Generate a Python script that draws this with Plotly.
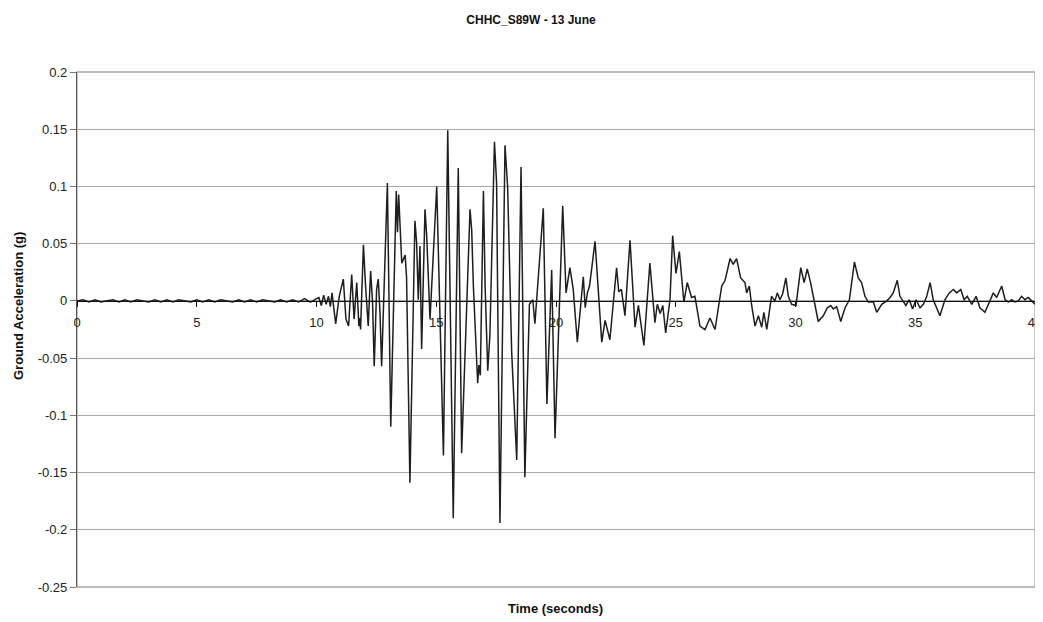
import plotly.graph_objects as go

# ---- data: digitised ground-acceleration record (time in s, acceleration in g) ----
time_pre = [0.0, 0.25, 0.5, 0.75, 1.0, 1.25, 1.5, 1.75, 2.0, 2.25, 2.5, 2.75, 3.0, 3.25,
            3.5, 3.75, 4.0, 4.25, 4.5, 4.75, 5.0, 5.25, 5.5, 5.75, 6.0, 6.25, 6.5, 6.75,
            7.0, 7.25, 7.5, 7.75, 8.0, 8.25, 8.5, 8.75, 9.0, 9.25, 9.5, 9.75, 10.0]
accel_pre = [0.0, 0.001, -0.001, 0.001, -0.001, 0.0, 0.001, -0.001, 0.001, -0.001, 0.001,
             0.0, -0.001, 0.001, -0.001, 0.001, -0.001, 0.001, 0.0, -0.001, 0.001, -0.001,
             0.001, -0.001, 0.001, 0.0, -0.001, 0.001, -0.001, 0.001, -0.001, 0.001, 0.0,
             -0.001, 0.001, -0.001, 0.001, -0.001, 0.002, -0.001, 0.002]

time_main = [10.1, 10.2, 10.3, 10.4, 10.5, 10.58, 10.65, 10.8, 10.95, 11.12, 11.23, 11.34,
             11.47, 11.57, 11.68, 11.77, 11.8, 11.84, 11.96, 12.04, 12.1, 12.16, 12.26,
             12.34, 12.41, 12.51, 12.58, 12.65, 12.72, 12.82, 12.96, 13.1, 13.33, 13.38,
             13.43, 13.56, 13.7, 13.76, 13.9, 14.11, 14.18, 14.25, 14.32, 14.39, 14.53,
             14.6, 14.7, 14.74, 15.02, 15.3, 15.48, 15.71, 15.92, 16.06, 16.41, 16.48,
             16.55, 16.73, 16.78, 16.84, 16.97, 17.04, 17.15, 17.24, 17.43, 17.52, 17.56,
             17.66, 17.87, 17.98, 18.15, 18.36, 18.54, 18.7, 18.89, 19.03, 19.12, 19.47,
             19.62, 19.82, 19.96, 20.28, 20.42, 20.58, 20.72, 20.89, 21.14, 21.22, 21.31,
             21.4, 21.63, 21.91, 22.05, 22.25, 22.53, 22.62, 22.73, 22.88, 23.09, 23.3,
             23.44, 23.67, 23.92, 24.13, 24.23, 24.35, 24.46, 24.58, 24.76, 24.87, 25.01,
             25.15, 25.34, 25.48, 25.66, 25.8]
accel_main = [0.003, -0.004, 0.005, -0.003, 0.004, -0.005, 0.007, -0.02, 0.004, 0.019,
              -0.016, -0.022, 0.023, -0.016, 0.016, -0.022, -0.015, -0.025, 0.049, 0.016,
              -0.001, -0.022, 0.026, -0.001, -0.057, 0.01, 0.019, -0.01, -0.057, 0.01, 0.103,
              -0.11, 0.096, 0.06, 0.093, 0.033, 0.04, 0.021, -0.159, 0.07, 0.051, 0.001,
              0.048, -0.042, 0.08, 0.057, -0.005, -0.016, 0.1, -0.135, 0.149, -0.19, 0.116,
              -0.133, 0.08, 0.062, 0.013, -0.072, -0.056, -0.065, 0.096, 0.013, -0.061,
              -0.03, 0.139, 0.103, 0.013, -0.194, 0.136, 0.1, -0.045, -0.139, 0.117, -0.154,
              -0.003, 0.001, -0.02, 0.081, -0.09, 0.027, -0.12, 0.083, 0.007, 0.029, 0.01,
              -0.036, 0.021, -0.006, 0.007, 0.013, 0.052, -0.036, -0.017, -0.034, 0.029,
              0.008, 0.01, -0.013, 0.053, -0.023, -0.004, -0.039, 0.033, -0.019, -0.003,
              -0.011, -0.004, -0.028, 0.001, 0.057, 0.024, 0.043, -0.001, 0.016, 0.003, 0.004]

time_post = [26.01, 26.22, 26.43, 26.64, 26.92, 27.06, 27.27, 27.4, 27.54, 27.71, 27.89,
             27.96, 28.07, 28.17, 28.31, 28.45, 28.59, 28.68, 28.8, 29.0, 29.14, 29.24,
             29.35, 29.46, 29.6, 29.7, 29.84, 30.02, 30.22, 30.36, 30.49, 30.63, 30.77,
             30.95, 31.16, 31.33, 31.47, 31.58, 31.72, 31.89, 32.07, 32.25, 32.46, 32.62,
             32.76, 32.9, 33.04, 33.25, 33.39, 33.6, 33.81, 33.95, 34.08, 34.25, 34.36,
             34.5, 34.61, 34.75, 34.89, 35.03, 35.2, 35.34, 35.48, 35.62, 35.75, 35.89,
             36.03, 36.24, 36.42, 36.59, 36.73, 36.9, 37.04, 37.17, 37.36, 37.54, 37.7,
             37.91, 38.12, 38.26, 38.4, 38.61, 38.75, 38.89, 39.03, 39.16, 39.3, 39.44,
             39.58, 39.72, 39.86, 40.0]
accel_post = [-0.022, -0.025, -0.015, -0.025, 0.013, 0.018, 0.037, 0.032, 0.037, 0.02,
              0.016, 0.007, 0.013, -0.004, -0.022, -0.013, -0.023, -0.01, -0.025, 0.004,
              0.0, 0.007, 0.001, 0.006, 0.02, 0.004, -0.003, -0.004, 0.029, 0.016, 0.028,
              0.016, 0.001, -0.018, -0.013, -0.006, -0.004, -0.007, -0.005, -0.018, -0.006,
              0.001, 0.034, 0.02, 0.016, 0.004, -0.001, -0.001, -0.01, -0.003, 0.0, 0.003,
              0.007, 0.018, 0.004, 0.0, -0.004, 0.001, -0.007, 0.001, -0.006, -0.003, 0.004,
              0.016, 0.001, -0.006, -0.013, 0.001, 0.007, 0.01, 0.007, 0.01, 0.001, 0.004,
              -0.003, 0.004, -0.006, -0.01, 0.001, 0.007, 0.003, 0.013, 0.001, -0.001, 0.001,
              -0.001, 0.0, 0.004, 0.001, 0.003, 0.0, -0.003]

x_ticks = [0, 5, 10, 15, 20, 25, 30, 35, 40]
y_ticks = [0.2, 0.15, 0.1, 0.05, 0, -0.05, -0.1, -0.15, -0.2, -0.25]
y_tick_labels = ["0.2", "0.15", "0.1", "0.05", "0", "-0.05", "-0.1", "-0.15", "-0.2", "-0.25"]

title_text = "CHHC_S89W - 13 June"
x_title = "Time (seconds)"
y_title = "Ground Acceleration (g)"

time_all = time_pre + time_main + time_post
accel_all = accel_pre + accel_main + accel_post

FONT = "Arial, Liberation Sans, sans-serif"
TICK_SIZE = 13
AXT_SIZE = 13

# The page body has an 8px default margin, so the figure is sized to fit the window.
W, H = 1035, 614
PL, PR, PT, PB = 69, 1027, 64, 579  # plot-area edges in figure pixels

fig = go.Figure()
fig.add_trace(go.Scatter(
    x=time_all, y=accel_all, mode="lines",
    line=dict(color="#1e1e1e", width=1.5),
    showlegend=False, hoverinfo="skip",
))

y_min, y_max = -0.25, 0.2
fig.update_layout(
    width=W, height=H,
    margin=dict(l=PL, r=W - PR, t=PT, b=H - PB, autoexpand=False),
    paper_bgcolor="white", plot_bgcolor="white",
    font=dict(family=FONT, size=TICK_SIZE, color="#222222"),
    title=dict(text="<b>" + title_text + "</b>", x=523 / W, xref="container",
               xanchor="center", y=1 - 12 / H, yref="container", yanchor="middle",
               font=dict(family=FONT, size=12, color="#111111")),
    xaxis=dict(
        range=[0, 40], tickvals=x_ticks, ticktext=[str(v) for v in x_ticks],
        showgrid=False, zeroline=False,
        showline=True, linecolor="#111111", linewidth=1.2,
        ticks="outside", ticklen=5, tickcolor="#111111", tickwidth=1,
        anchor="free", position=(0 - y_min) / (y_max - y_min),
        ticklabelstandoff=4,
        tickfont=dict(family=FONT, size=TICK_SIZE, color="#222222"),
    ),
    yaxis=dict(
        range=[y_min, y_max], domain=[0, 1],
        tickvals=y_ticks, ticktext=y_tick_labels,
        showgrid=True, gridcolor="#a8a8a8", gridwidth=1.3, zeroline=False,
        showline=True, linecolor="#555555", linewidth=1.2,
        ticks="outside", ticklen=6, tickcolor="#777777",
        tickfont=dict(family=FONT, size=TICK_SIZE, color="#222222"),
    ),
    shapes=[dict(type="rect", xref="x domain", yref="y domain", x0=0, x1=1, y0=0, y1=1,
                 line=dict(color="#a8a8a8", width=1.3), layer="below")],
    annotations=[
        dict(text="<b>" + x_title + "</b>", xref="paper", yref="paper",
             x=(547 - PL) / (PR - PL), y=(PB - 600) / (PB - PT),
             xanchor="center", yanchor="middle",
             showarrow=False, font=dict(family=FONT, size=AXT_SIZE, color="#111111")),
        dict(text="<b>" + y_title + "</b>", xref="paper", yref="paper",
             x=(10 - PL) / (PR - PL), y=(PB - 298) / (PB - PT),
             xanchor="center", yanchor="middle",
             textangle=-90, showarrow=False,
             font=dict(family=FONT, size=AXT_SIZE, color="#111111")),
    ],
)

fig.write_html("out.html")
